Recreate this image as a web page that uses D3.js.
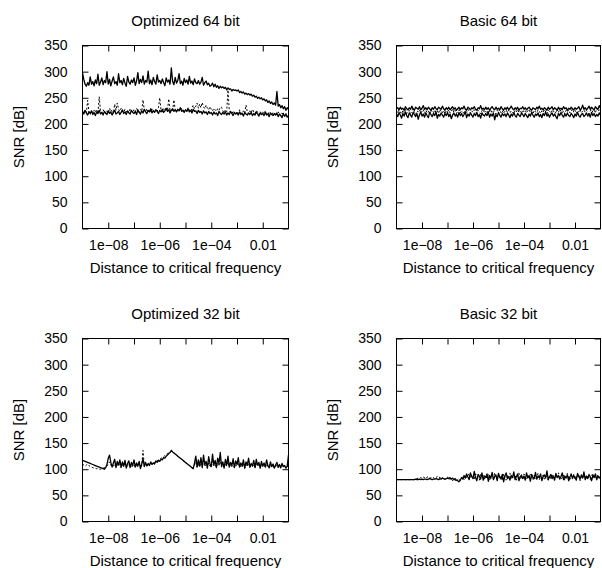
<!DOCTYPE html>
<html>
<head>
<meta charset="utf-8">
<script src="https://cdn.jsdelivr.net/npm/d3@7"></script>
<style>
  body { margin: 0; background: #fff; }
  text { font-family: "Liberation Sans", Arial, Helvetica, sans-serif; }
</style>
</head>
<body>
<div id="grafico"></div>
<script>
// exponentes de la distancia (10^x)
const xExp = [
  -9, -8.95, -8.9, -8.85, -8.8, -8.75, -8.7, -8.65, -8.6, -8.55,
  -8.5, -8.45, -8.4, -8.35, -8.3, -8.25, -8.2, -8.15, -8.1, -8.05,
  -8, -7.95, -7.9, -7.85, -7.8, -7.75, -7.7, -7.65, -7.6, -7.55,
  -7.5, -7.45, -7.4, -7.35, -7.3, -7.25, -7.2, -7.15, -7.1, -7.05,
  -7, -6.95, -6.9, -6.85, -6.8, -6.75, -6.7, -6.65, -6.6, -6.55,
  -6.5, -6.45, -6.4, -6.35, -6.3, -6.25, -6.2, -6.15, -6.1, -6.05,
  -6, -5.95, -5.9, -5.85, -5.8, -5.75, -5.7, -5.65, -5.6, -5.55,
  -5.5, -5.45, -5.4, -5.35, -5.3, -5.25, -5.2, -5.15, -5.1, -5.05,
  -5, -4.95, -4.9, -4.85, -4.8, -4.75, -4.7, -4.65, -4.6, -4.55,
  -4.5, -4.45, -4.4, -4.35, -4.3, -4.25, -4.2, -4.15, -4.1, -4.05,
  -4, -3.95, -3.9, -3.85, -3.8, -3.75, -3.7, -3.65, -3.6, -3.55,
  -3.5, -3.45, -3.4, -3.35, -3.3, -3.25, -3.2, -3.15, -3.1, -3.05,
  -3, -2.95, -2.9, -2.85, -2.8, -2.75, -2.7, -2.65, -2.6, -2.55,
  -2.5, -2.45, -2.4, -2.35, -2.3, -2.25, -2.2, -2.15, -2.1, -2.05,
  -2, -1.95, -1.9, -1.85, -1.8, -1.75, -1.7, -1.65, -1.6, -1.55,
  -1.5, -1.45, -1.4, -1.35, -1.3, -1.25, -1.2, -1.15, -1.1, -1.05, -1
];

// Optimized 64 bit
const opt64Upper = [
  298, 285, 276, 272, 279, 274, 290, 276, 281, 273,
  284, 277, 295, 274, 280, 288, 275, 283, 279, 300,
  276, 285, 273, 282, 290, 277, 281, 274, 296, 279,
  283, 275, 287, 278, 272, 291, 280, 276, 284, 279,
  288, 274, 282, 298, 277, 285, 279, 292, 276, 283,
  280, 301, 277, 284, 275, 289, 281, 276, 294, 280,
  283, 277, 286, 279, 273, 288, 280, 284, 276, 307,
  281, 275, 289, 278, 283, 296, 277, 282, 274, 287,
  279, 284, 276, 291, 278, 282, 275, 286, 279, 277,
  283, 276, 280, 289, 274, 279, 282, 275, 278, 272,
  274, 278, 271, 276, 270, 273, 268, 272, 269, 271,
  268, 270, 265, 269, 266, 267, 263, 266, 264, 265,
  263, 265, 260, 262, 259, 261, 257, 259, 256, 258,
  255, 257, 253, 255, 251, 253, 249, 251, 248, 250,
  246, 248, 244, 246, 241, 244, 239, 242, 237, 240,
  236, 262, 234, 237, 231, 235, 229, 233, 226, 231, 228
];
const opt64Lower = [
  224, 219, 226, 221, 217, 223, 220, 225, 218, 222,
  216, 223, 220, 226, 219, 222, 217, 224, 221, 218,
  225, 220, 223, 217, 222, 226, 219, 221, 224, 218,
  222, 227, 220, 223, 218, 225, 221, 219, 226, 222,
  220, 224, 218, 227, 222, 219, 225, 221, 228, 223,
  220, 226, 223, 229, 221, 225, 222, 227, 224, 220,
  226, 223, 228, 222, 225, 230, 224, 227, 221, 226,
  229, 224, 227, 223, 228, 225, 231, 224, 226, 222,
  227, 224, 229, 223, 226, 221, 228, 224, 225, 220,
  226, 222, 224, 219, 225, 221, 223, 218, 224, 220,
  222, 217, 223, 219, 221, 216, 224, 220, 218, 222,
  219, 223, 217, 221, 218, 224, 220, 216, 222, 219,
  221, 217, 223, 218, 220, 215, 222, 219, 217, 221,
  218, 222, 216, 220, 217, 223, 219, 215, 221, 218,
  220, 216, 222, 217, 219, 214, 221, 218, 216, 220,
  217, 221, 214, 219, 216, 212, 220, 215, 218, 213, 216
];
const opt64Dashed = [
  224, 220, 227, 222, 245, 223, 218, 225, 221, 226,
  222, 228, 220, 252, 224, 221, 227, 223, 219, 225,
  221, 230, 223, 227, 220, 238, 226, 240, 228, 224,
  230, 225, 222, 228, 223, 226, 221, 229, 224, 222,
  227, 223, 230, 225, 222, 228, 224, 246, 226, 223,
  229, 224, 227, 222, 230, 225, 223, 228, 224, 231,
  250, 226, 223, 229, 225, 230, 227, 248, 224, 228,
  225, 246, 227, 223, 229, 226, 224, 230, 227, 225,
  228, 224, 231, 227, 223, 230, 236, 229, 234, 240,
  230, 238, 231, 241, 233, 229, 236, 230, 227, 233,
  228, 225, 230, 227, 224, 229, 226, 232, 232, 225,
  221, 227, 223, 265, 226, 222, 219, 225, 221, 218,
  224, 220, 227, 222, 219, 225, 221, 236, 223, 219,
  225, 221, 228, 223, 220, 226, 222, 218, 224, 220,
  223, 219, 225, 221, 217, 223, 220, 216, 222, 218,
  221, 217, 223, 219, 215, 221, 217, 214, 220, 216, 218
];

// Basic 64 bit
const basic64A = [
  229, 231, 227, 232, 228, 230, 226, 233, 229, 227,
  231, 228, 234, 229, 226, 232, 230, 228, 233, 227,
  230, 235, 228, 231, 227, 232, 229, 226, 231, 228,
  233, 229, 227, 232, 230, 228, 234, 229, 226, 231,
  228, 232, 227, 230, 233, 228, 231, 226, 229, 232,
  227, 231, 229, 234, 228, 226, 232, 230, 227, 231,
  229, 233, 228, 226, 231, 229, 235, 228, 230, 227,
  232, 228, 231, 226, 230, 233, 229, 227, 232, 228,
  230, 227, 233, 229, 226, 231, 228, 232, 227, 230,
  234, 229, 227, 231, 228, 232, 226, 230, 229, 233,
  228, 231, 227, 230, 232, 228, 226, 231, 229, 227,
  232, 229, 234, 228, 230, 227, 231, 229, 226, 232,
  228, 230, 233, 227, 231, 229, 226, 232, 228, 230,
  227, 233, 229, 231, 226, 230, 228, 232, 229, 227,
  231, 228, 230, 233, 227, 229, 236, 228, 231, 227,
  230, 234, 228, 232, 229, 227, 233, 230, 228, 235, 230
];
const basic64B = [
  219, 214, 222, 217, 211, 220, 215, 223, 216, 212,
  221, 217, 213, 222, 218, 214, 220, 209, 217, 223,
  215, 219, 213, 221, 216, 212, 222, 218, 214, 220,
  216, 223, 211, 218, 215, 221, 217, 213, 220, 216,
  222, 214, 219, 210, 217, 221, 215, 219, 213, 222,
  216, 220, 214, 218, 223, 212, 219, 215, 221, 217,
  213, 220, 216, 222, 214, 218, 211, 221, 217, 215,
  220, 216, 223, 213, 219, 215, 221, 208, 218, 214,
  222, 217, 213, 220, 216, 219, 214, 221, 217, 212,
  219, 215, 222, 216, 213, 220, 217, 214, 221, 218,
  214, 220, 216, 212, 219, 215, 222, 217, 213, 219,
  216, 221, 214, 218, 212, 220, 216, 223, 215, 219,
  213, 218, 221, 215, 219, 214, 210, 220, 216, 222,
  217, 213, 219, 215, 221, 216, 214, 220, 217, 212,
  219, 215, 222, 216, 213, 218, 220, 214, 217, 221,
  215, 219, 213, 222, 216, 220, 214, 218, 215, 221, 217
];
const basic64C = [
  225, 221, 227, 223, 219, 226, 222, 228, 220, 224,
  226, 220, 224, 229, 222, 218, 225, 223, 227, 221,
  224, 228, 220, 226, 222, 225, 219, 227, 223, 221,
  227, 222, 225, 220, 228, 224, 221, 226, 219, 225,
  223, 227, 221, 224, 229, 222, 226, 220, 224, 227,
  221, 225, 223, 219, 226, 222, 228, 224, 220, 225,
  222, 227, 224, 220, 226, 223, 219, 225, 228, 221,
  224, 220, 226, 223, 227, 221, 225, 222, 219, 226,
  223, 228, 221, 225, 220, 224, 227, 222, 226, 221,
  225, 222, 219, 226, 223, 228, 221, 224, 220, 227,
  223, 226, 221, 225, 228, 222, 224, 219, 226, 223,
  221, 227, 224, 220, 225, 222, 228, 223, 219, 226,
  224, 221, 227, 223, 225, 220, 226, 222, 228, 224,
  221, 225, 219, 226, 223, 227, 221, 224, 229, 222,
  226, 220, 225, 223, 228, 221, 224, 227, 222, 226,
  223, 219, 225, 228, 222, 226, 221, 230, 224, 227, 225
];

// Optimized 32 bit
const opt32Solid = [
  117, 116, 115, 114, 113, 112, 111, 110, 109, 108,
  107, 106, 105, 104, 103, 102, 101, 100, 103, 109,
  121, 127, 113, 104, 112, 119, 103, 115, 108, 118,
  104, 114, 106, 117, 102, 111, 116, 103, 113, 107,
  118, 104, 112, 106, 115, 101, 110, 120, 105, 113,
  106, 111, 107, 114, 109, 112, 110, 116, 113, 117,
  115, 119, 118, 122, 121, 125, 127, 130, 132, 136,
  133, 131, 129, 127, 125, 123, 121, 119, 117, 115,
  113, 111, 109, 107, 105, 103, 101, 112, 125, 104,
  118, 106, 122, 103, 127, 109, 115, 102, 124, 110,
  105, 129, 108, 117, 103, 121, 111, 132, 106, 114,
  102, 119, 108, 125, 104, 113, 107, 120, 103, 116,
  109, 122, 104, 112, 106, 118, 102, 114, 108, 121,
  104, 111, 106, 117, 103, 119, 108, 113, 102, 115,
  106, 112, 104, 118, 107, 103, 114, 105, 110, 102,
  108, 113, 104, 109, 103, 111, 105, 107, 102, 106, 127
];
const opt32Dashed = [
  110, 108, 106, 108, 110, 107, 105, 104, 103, 102,
  102, 101, 101, 100, 100, 101, 102, 103, 104, 106,
  110, 114, 108, 104, 106, 110, 104, 108, 112, 105,
  103, 108, 105, 110, 104, 107, 109, 104, 106, 105,
  108, 104, 107, 105, 109, 104, 106, 136, 106, 108,
  107, 109, 108, 111, 110, 112, 113, 115, 116, 118,
  119, 121, 122, 124, 126, 128, 130, 131, 133, 134,
  133, 131, 129, 127, 125, 123, 121, 119, 117, 115,
  113, 111, 109, 107, 105, 103, 102, 108, 114, 105,
  110, 104, 113, 106, 116, 105, 109, 103, 112, 106,
  104, 115, 107, 110, 103, 112, 106, 118, 104, 108,
  103, 111, 106, 114, 104, 109, 105, 112, 103, 108,
  106, 113, 103, 108, 105, 111, 102, 109, 105, 112,
  103, 107, 105, 110, 102, 111, 106, 108, 102, 109,
  104, 107, 103, 110, 105, 102, 108, 104, 106, 102,
  105, 108, 103, 106, 102, 107, 104, 105, 102, 104, 110
];

// Basic 32 bit
const basic32Solid = [
  80, 80, 80, 80, 80, 80, 80, 80, 80, 80,
  80, 80, 80, 80, 80, 81, 80, 80, 81, 80,
  81, 80, 81, 81, 80, 81, 82, 81, 80, 81,
  81, 82, 81, 80, 82, 81, 83, 82, 81, 82,
  83, 82, 84, 81, 83, 80, 82, 79, 78, 76,
  79, 84, 81, 88, 83, 91, 85, 80, 93, 86,
  82, 96, 84, 78, 90, 86, 81, 93, 79, 87,
  84, 91, 77, 88, 83, 94, 80, 86, 89, 78,
  92, 85, 81, 90, 76, 87, 93, 82, 86, 79,
  88, 84, 95, 80, 86, 91, 78, 85, 89, 82,
  87, 79, 93, 84, 88, 77, 90, 85, 82, 94,
  81, 87, 84, 91, 78, 86, 89, 83, 97, 80,
  85, 90, 82, 87, 79, 92, 84, 88, 81, 86,
  93, 80, 87, 83, 89, 78, 85, 91, 82, 88,
  84, 79, 92, 86, 81, 89, 83, 95, 80, 87,
  82, 90, 85, 78, 88, 84, 91, 81, 87, 83, 86
];
const basic32Dashed = [
  80, 80, 80, 80, 80, 80, 80, 80, 80, 80,
  80, 80, 80, 80, 80, 81, 82, 83, 82, 84,
  83, 85, 84, 82, 85, 86, 84, 83, 85, 84,
  82, 84, 86, 83, 85, 81, 84, 82, 80, 83,
  85, 82, 80, 83, 78, 81, 79, 76, 80, 82,
  78, 82, 86, 80, 89, 84, 87, 92, 83, 88,
  85, 80, 91, 87, 83, 79, 92, 85, 88, 81,
  86, 83, 90, 79, 85, 88, 82, 93, 84, 80,
  89, 83, 87, 80, 91, 85, 79, 88, 84, 92,
  81, 86, 83, 89, 79, 87, 93, 82, 85, 80,
  91, 84, 80, 87, 83, 90, 86, 79, 88, 82,
  85, 92, 80, 86, 83, 89, 81, 87, 84, 79,
  88, 82, 91, 85, 80, 87, 83, 93, 86, 81,
  84, 89, 79, 86, 92, 83, 80, 88, 85, 90,
  81, 87, 84, 90, 78, 86, 83, 89, 85, 82,
  88, 83, 80, 87, 92, 84, 86, 79, 89, 85, 82
];

const yTicks = [0, 50, 100, 150, 200, 250, 300, 350];
const xTicks = [1e-8, 1e-7, 1e-6, 1e-5, 1e-4, 1e-3, 1e-2];
const xLabelValues = [1e-8, 1e-6, 1e-4, 1e-2];
const xLabelText = ["1e\u221208", "1e\u221206", "1e\u221204", "0.01"];

const titles = ["Optimized 64 bit", "Basic 64 bit", "Optimized 32 bit", "Basic 32 bit"];
// la primera serie de cada panel va punteada
const seriesPorPanel = [
  [opt64Dashed, opt64Lower, opt64Upper],
  [basic64C, basic64B, basic64A],
  [opt32Dashed, opt32Solid],
  [basic32Dashed, basic32Solid],
];

// posiciones de cada panel
const layout = [
  { left: 82.5, top: 45.5, w: 206 },
  { left: 396.5, top: 45.5, w: 204 },
  { left: 82.5, top: 338.5, w: 206 },
  { left: 396.5, top: 338.5, w: 204 },
];
const plotH = 183;

const svg = d3
  .select("#grafico")
  .append("svg")
  .attr("width", 602)
  .attr("height", 568);

function fmtX(d) {
  const i = xLabelValues.findIndex((v) => Math.abs(Math.log10(v) - Math.log10(d)) < 1e-6);
  return i >= 0 ? xLabelText[i] : "";
}

titles.forEach((title, p) => {
  const { left, top, w } = layout[p];
  const x = d3.scaleLog().domain([1e-9, 1e-1]).range([left, left + w]);
  const y = d3.scaleLinear().domain([0, 350]).range([top + plotH, top]);
  const g = svg.append("g");

  // lineas
  const line = d3
    .line()
    .x((d) => x(Math.pow(10, d[0])))
    .y((d) => y(d[1]));

  seriesPorPanel[p].forEach((vals, k) => {
    const pts = xExp.slice(0, vals.length).map((e, i) => [e, vals[i]]);
    const punteada = k === 0;
    g.append("path")
      .datum(pts)
      .attr("d", line)
      .attr("fill", "none")
      .attr("stroke", "#000")
      .attr("stroke-width", punteada ? 1 : 1.3)
      .attr("stroke-linejoin", "round")
      .attr("stroke-dasharray", punteada ? "2,2" : null);
  });

  // Ejes (ticks hacia dentro)
  const styleAxis = (sel) => {
    sel.select(".domain").remove();
    sel.selectAll("line").attr("stroke", "#000").attr("stroke-width", 1);
    sel.selectAll("text")
      .attr("fill", "#000")
      .style("font-size", "14px")
      .style("font-family", '"Liberation Sans", Arial, sans-serif');
  };

  g.append("g")
    .attr("transform", `translate(0,${top + plotH})`)
    .call(d3.axisBottom(x).tickValues(xTicks).tickSizeInner(-6).tickSizeOuter(0).tickPadding(12).tickFormat(fmtX))
    .call(styleAxis);
  g.append("g")
    .attr("transform", `translate(0,${top})`)
    .call(d3.axisTop(x).tickValues(xTicks).tickSizeInner(-6).tickSizeOuter(0).tickFormat(() => ""))
    .call(styleAxis);
  g.append("g")
    .attr("transform", `translate(${left},0)`)
    .call(d3.axisLeft(y).tickValues(yTicks).tickSizeInner(-6).tickSizeOuter(0).tickPadding(15))
    .call(styleAxis);
  g.append("g")
    .attr("transform", `translate(${left + w},0)`)
    .call(d3.axisRight(y).tickValues(yTicks).tickSizeInner(-6).tickSizeOuter(0).tickFormat(() => ""))
    .call(styleAxis);

  // borde
  g.append("rect")
    .attr("x", left)
    .attr("y", top)
    .attr("width", w)
    .attr("height", plotH)
    .attr("fill", "none")
    .attr("stroke", "#000")
    .attr("stroke-width", 1);

  // titulo
  g.append("text")
    .attr("x", left + w / 2)
    .attr("y", top - 19.5)
    .attr("text-anchor", "middle")
    .style("font-size", "15px")
    .text(title);

  // etiqueta eje x
  g.append("text")
    .attr("x", left + w / 2)
    .attr("y", top + plotH + 44.5)
    .attr("text-anchor", "middle")
    .style("font-size", "15px")
    .text("Distance to critical frequency");

  // etiqueta eje y
  g.append("text")
    .attr("transform", `translate(${left - 58.5},${top + plotH / 2}) rotate(-90)`)
    .attr("text-anchor", "middle")
    .style("font-size", "15px")
    .text("SNR [dB]");
});
</script>
</body>
</html>
